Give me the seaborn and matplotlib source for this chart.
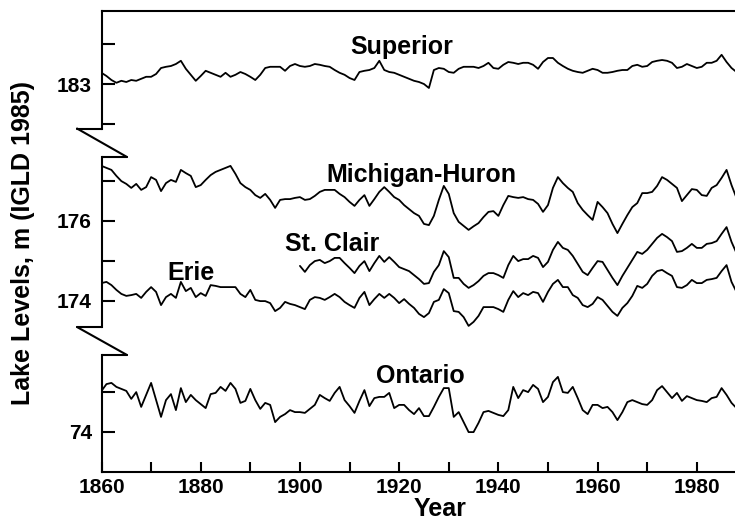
import numpy as np
import matplotlib.pyplot as plt
import seaborn as sns
from matplotlib.lines import Line2D
from matplotlib.ticker import MultipleLocator, FixedLocator

# Great Lakes annual mean levels, m (IGLD 1985)
years = np.arange(1860, 1989)
years_stclair = np.arange(1900, 1989)

superior = [
    183.28, 183.20, 183.10, 183.03, 183.08, 183.05, 183.10, 183.08, 183.13, 183.18,
    183.18, 183.25, 183.40, 183.43, 183.45, 183.50, 183.58, 183.38, 183.23, 183.08,
    183.20, 183.33, 183.28, 183.23, 183.18, 183.28, 183.18, 183.23, 183.30, 183.25,
    183.18, 183.10, 183.23, 183.40, 183.43, 183.43, 183.43, 183.33, 183.45, 183.50,
    183.45, 183.43, 183.45, 183.50, 183.48, 183.45, 183.43, 183.35, 183.28, 183.23,
    183.15, 183.10, 183.30, 183.33, 183.35, 183.40, 183.58, 183.35, 183.30, 183.28,
    183.23, 183.18, 183.13, 183.08, 183.05, 183.00, 182.90, 183.35, 183.40, 183.38,
    183.30, 183.28, 183.38, 183.43, 183.43, 183.43, 183.40, 183.45, 183.53, 183.40,
    183.38, 183.48, 183.55, 183.53, 183.50, 183.53, 183.53, 183.48, 183.38, 183.55,
    183.65, 183.65, 183.53, 183.45, 183.38, 183.33, 183.30, 183.28, 183.33, 183.38,
    183.35, 183.28, 183.28, 183.30, 183.33, 183.35, 183.35, 183.45, 183.48, 183.43,
    183.45, 183.55, 183.58, 183.60, 183.58, 183.53, 183.40, 183.43, 183.50, 183.45,
    183.40, 183.43, 183.53, 183.53, 183.58, 183.73, 183.55, 183.40, 183.30,
]

michigan_huron = [
    177.37, 177.32, 177.27, 177.12, 176.99, 176.92, 176.82, 176.92, 176.77, 176.84,
    177.09, 177.02, 176.74, 176.94, 177.02, 176.97, 177.27, 177.19, 177.12, 176.84,
    176.89, 177.02, 177.14, 177.22, 177.27, 177.32, 177.37, 177.17, 176.94, 176.84,
    176.77, 176.64, 176.57, 176.67, 176.52, 176.32, 176.52, 176.54, 176.54, 176.57,
    176.59, 176.52, 176.54, 176.62, 176.72, 176.77, 176.77, 176.77, 176.67, 176.59,
    176.47, 176.37, 176.52, 176.64, 176.37, 176.54, 176.72, 176.84, 176.72, 176.59,
    176.52, 176.39, 176.29, 176.19, 176.12, 175.92, 175.89, 176.12, 176.52, 176.87,
    176.67, 176.19, 175.97, 175.87, 175.77, 175.86, 175.94, 176.09, 176.22, 176.24,
    176.12, 176.39, 176.62, 176.59, 176.57, 176.59, 176.54, 176.52, 176.42, 176.22,
    176.39, 176.82, 177.09, 176.94, 176.82, 176.72, 176.44, 176.27, 176.14, 176.02,
    176.47, 176.34, 176.19, 175.92, 175.69, 175.92, 176.14, 176.34, 176.44, 176.69,
    176.69, 176.72, 176.87, 177.09, 177.02, 176.92, 176.82, 176.49, 176.64, 176.79,
    176.77, 176.64, 176.62, 176.82, 176.89, 177.07, 177.27, 176.89, 176.57,
]

st_clair = [
    174.87, 174.72, 174.89, 174.99, 175.02, 174.94, 174.99, 175.07, 175.07, 174.94,
    174.82, 174.69, 174.87, 174.99, 174.74, 174.94, 175.12, 174.97, 175.09, 174.97,
    174.84, 174.79, 174.74, 174.64, 174.54, 174.42, 174.44, 174.72, 174.89, 175.24,
    175.09, 174.57, 174.57, 174.42, 174.32, 174.39, 174.49, 174.62, 174.69, 174.69,
    174.64, 174.57, 174.89, 175.12, 174.99, 175.04, 175.04, 175.12, 175.07, 174.84,
    174.97, 175.27, 175.47, 175.32, 175.27, 175.12, 174.92, 174.72, 174.64, 174.82,
    174.99, 174.97, 174.77, 174.57, 174.39, 174.62, 174.82, 175.02, 175.22, 175.17,
    175.27, 175.42, 175.57, 175.67, 175.59, 175.49, 175.22, 175.24, 175.32, 175.42,
    175.32, 175.32, 175.42, 175.44, 175.49, 175.67, 175.84, 175.47, 175.19,
]

erie = [
    174.44, 174.47, 174.39, 174.27, 174.17, 174.12, 174.14, 174.17, 174.07, 174.22,
    174.34, 174.22, 173.89, 174.09, 174.17, 174.07, 174.47, 174.24, 174.32, 174.09,
    174.19, 174.12, 174.39, 174.37, 174.34, 174.34, 174.34, 174.34, 174.17, 174.09,
    174.27, 174.02, 173.99, 173.99, 173.94, 173.74, 173.82, 173.97, 173.92, 173.89,
    173.84, 173.79, 174.02, 174.09, 174.07, 174.02, 174.09, 174.17, 174.09, 173.97,
    173.89, 173.82, 174.07, 174.22, 173.89, 174.04, 174.17, 174.07, 174.17, 174.07,
    173.94, 174.04, 173.92, 173.82, 173.67, 173.59, 173.69, 173.97, 174.02, 174.29,
    174.19, 173.74, 173.72, 173.59, 173.37, 173.47, 173.62, 173.84, 173.84, 173.84,
    173.79, 173.72, 174.02, 174.24, 174.09, 174.19, 174.14, 174.22, 174.19, 173.97,
    174.22, 174.42, 174.52, 174.34, 174.34, 174.14, 174.07, 173.89, 173.84, 173.92,
    174.09, 174.02, 173.87, 173.72, 173.62, 173.82, 173.94, 174.12, 174.37, 174.32,
    174.42, 174.62, 174.74, 174.77, 174.69, 174.62, 174.34, 174.32, 174.39, 174.52,
    174.44, 174.44, 174.52, 174.54, 174.57, 174.74, 174.89, 174.47, 174.22,
]

ontario = [
    75.02, 75.19, 75.22, 75.12, 75.07, 75.02, 74.82, 74.99, 74.62, 74.92,
    75.22, 74.79, 74.37, 74.79, 74.94, 74.54, 75.09, 74.74, 74.92, 74.79,
    74.69, 74.59, 74.94, 74.97, 75.12, 75.02, 75.22, 75.07, 74.72, 74.77,
    75.07, 74.79, 74.57, 74.72, 74.67, 74.24, 74.37, 74.44, 74.54, 74.49,
    74.49, 74.47, 74.57, 74.67, 74.92, 74.84, 74.77, 74.97, 75.12, 74.79,
    74.64, 74.47, 74.77, 75.04, 74.64, 74.84, 74.87, 74.87, 74.97, 74.59,
    74.67, 74.67, 74.54, 74.44, 74.59, 74.39, 74.39, 74.62, 74.87, 75.09,
    75.09, 74.37, 74.49, 74.24, 73.99, 73.99, 74.22, 74.49, 74.52, 74.47,
    74.42, 74.39, 74.54, 75.12, 74.84, 75.04, 74.99, 75.17, 75.07, 74.74,
    74.87, 75.24, 75.37, 74.99, 74.97, 75.12, 74.84, 74.54, 74.44, 74.67,
    74.67, 74.59, 74.62, 74.49, 74.29, 74.49, 74.74, 74.79, 74.74, 74.69,
    74.67, 74.79, 75.04, 75.14, 74.99, 74.84, 74.97, 74.77, 74.89, 74.84,
    74.79, 74.77, 74.74, 74.84, 74.87, 75.09, 74.92, 74.72, 74.59,
]

# ------------------------------------------------------------
sns.set_style("ticks")
plt.rcParams["font.family"] = ["Liberation Sans", "DejaVu Sans"]
plt.rcParams["font.weight"] = "bold"
plt.rcParams["axes.linewidth"] = 1.5
for key in ("text.color", "axes.labelcolor", "axes.edgecolor", "xtick.color", "ytick.color"):
    plt.rcParams[key] = "black"

W, H = 735, 522          # figure size in pixels
LEFT = 101.5             # pixel x of the left spine
PX_PER_M = 40.0          # same vertical scale in every panel

fig = plt.figure(figsize=(W / 100, H / 100), dpi=100)


def panel(top, bottom, ref_val, ref_px):
    ax = fig.add_axes([LEFT / W, 1 - bottom / H, (W - LEFT - 0.5) / W, (bottom - top) / H])
    ax.set_ylim(ref_val - (bottom - ref_px) / PX_PER_M, ref_val + (ref_px - top) / PX_PER_M)
    ax.set_xlim(1860, 1987.6)
    ax.set_facecolor("none")
    return ax


ax_top = panel(11, 128.5, 183, 84)
ax_mid = panel(157, 327, 176, 220.7)
ax_bot = panel(355, 472, 74, 431.7)

sns.lineplot(x=years, y=superior, ax=ax_top, color="black", linewidth=1.3)
sns.lineplot(x=years, y=michigan_huron, ax=ax_mid, color="black", linewidth=1.3)
sns.lineplot(x=years_stclair, y=st_clair, ax=ax_mid, color="black", linewidth=1.3)
sns.lineplot(x=years, y=erie, ax=ax_mid, color="black", linewidth=1.3)
sns.lineplot(x=years, y=ontario, ax=ax_bot, color="black", linewidth=1.3)

# y ticks: labelled majors, unlabelled minors, all pointing inward
ticks = {ax_top: ([183], [182, 184]), ax_mid: ([174, 176], [175, 177]), ax_bot: ([74], [75])}
for ax, (major, minor) in ticks.items():
    ax.yaxis.set_major_locator(FixedLocator(major))
    ax.yaxis.set_minor_locator(FixedLocator(minor))
    ax.set_yticklabels([str(v) for v in major])
    ax.tick_params(axis="y", which="both", direction="in", length=9.5, width=1.5,
                   labelsize=15, pad=7, colors="black")
    ax.spines["right"].set_visible(False)
    ax.set_xlabel("")
    ax.set_ylabel("")

for ax in (ax_top, ax_mid):
    ax.spines["bottom"].set_visible(False)
    ax.tick_params(axis="x", which="both", bottom=False, labelbottom=False)
for ax in (ax_mid, ax_bot):
    ax.spines["top"].set_visible(False)

ax_bot.xaxis.set_major_locator(MultipleLocator(20))
ax_bot.xaxis.set_minor_locator(MultipleLocator(10))
ax_bot.tick_params(axis="x", which="both", direction="in", length=7.5, width=1.5,
                   labelsize=15, pad=4.5, colors="black")

# lake names
lab = dict(ha="center", va="baseline", fontsize=18, fontweight="bold", color="black")
ax_top.text(1920.6, 183.74, "Superior", **lab)
ax_mid.text(1924.5, 176.97, "Michigan-Huron", **lab)
ax_mid.text(1906.5, 175.25, "St. Clair", **lab)
ax_mid.text(1878.0, 174.53, "Erie", **lab)
ax_bot.text(1924.2, 75.21, "Ontario", **lab)

fig.text(23 / W, 1 - 243 / H, "Lake Levels, m (IGLD 1985)", rotation=90,
         ha="center", va="center", fontsize=18, fontweight="bold", color="black")
fig.text(440 / W, 1 - 516.5 / H, "Year", ha="center", va="baseline",
         fontsize=18, fontweight="bold", color="black")


# zig-zag axis break marks between the panels
def draw_break(y_top, y_bot):
    segs = [((77, LEFT), (y_top, y_top)), ((77, 127), (y_top, y_bot)), ((LEFT, 127), (y_bot, y_bot))]
    for xs, ys in segs:
        fig.add_artist(Line2D([x / W for x in xs], [1 - y / H for y in ys],
                              color="black", linewidth=1.5))


draw_break(128.5, 157)
draw_break(327, 355)

fig.savefig("out.png", dpi=100)
